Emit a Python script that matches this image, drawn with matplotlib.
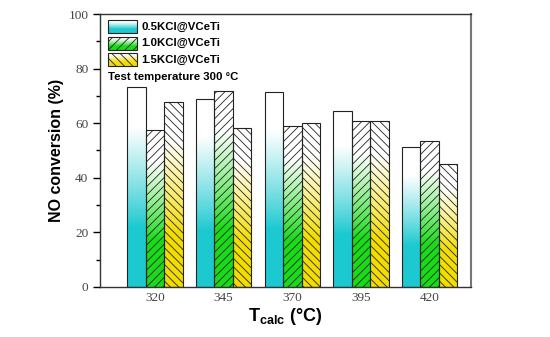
import numpy as np
import matplotlib
matplotlib.use("Agg")
import matplotlib.pyplot as plt
from matplotlib.patches import Rectangle
from matplotlib.colors import to_rgb

categories = ["320", "345", "370", "395", "420"]
series_names = ["0.5KCl@VCeTi", "1.0KCl@VCeTi", "1.5KCl@VCeTi"]
vals_05 = [73.3, 69.0, 71.3, 64.6, 51.3]
vals_10 = [57.4, 71.7, 59.1, 60.7, 53.5]
vals_15 = [67.8, 58.1, 60.1, 60.7, 45.2]
yticks = [0, 20, 40, 60, 80, 100]

colors = ["#1cc9d0", "#19dc19", "#f3dd00"]
hatches = ["", "////", "\\\\\\\\"]

plt.rcParams['hatch.linewidth'] = 0.6
plt.rcParams['hatch.color'] = '#333333'
plt.rcParams['mathtext.fontset'] = 'custom'
plt.rcParams['mathtext.rm'] = 'Liberation Sans:bold'
plt.rcParams['mathtext.bf'] = 'Liberation Sans:bold'

fig = plt.figure(figsize=(5.5, 3.37), dpi=100)
ax = fig.add_axes([0.182, 0.149, 0.674, 0.809])


def gradient(color, n=256):
    c = np.array(to_rgb(color))
    t = np.linspace(0, 1, n)
    # solid at bottom 0..0.3, fade to white by 0.8
    f = np.clip((t - 0.3) / 0.5, 0, 1)
    f = f ** 0.9
    rgb = c[None, :] * (1 - f[:, None]) + f[:, None] * np.ones(3)[None, :]
    return rgb[:, None, :]


w = 0.27
x = np.arange(len(categories))
all_vals = [vals_05, vals_10, vals_15]
for i, vals in enumerate(all_vals):
    off = (i - 1) * w
    grad = gradient(colors[i])
    for xi, v in zip(x, vals):
        ax.imshow(grad, extent=[xi + off - w / 2, xi + off + w / 2, 0, v],
                  origin='lower', aspect='auto', zorder=1, interpolation='bilinear')
    ax.bar(x + off, vals, width=w, facecolor='none', edgecolor='#222222',
           linewidth=0.8, hatch=hatches[i], zorder=2)

ax.set_xlim(-0.8, 4.6)
ax.set_ylim(0, 100)
ax.set_xticks(x)
ax.set_xticklabels(categories)
ax.set_yticks(yticks)
ax.set_yticks(np.arange(10, 100, 20), minor=True)
ax.tick_params(axis='y', which='major', length=5, width=1, direction='out')
ax.tick_params(axis='y', which='minor', length=3, width=1, direction='out')
ax.tick_params(axis='x', which='major', length=0, pad=4)
for lab in ax.get_xticklabels() + ax.get_yticklabels():
    lab.set_fontfamily('Liberation Serif')
    lab.set_fontsize(9.5)
    lab.set_color('#444444')
for s in ax.spines.values():
    s.set_linewidth(1.0)
    s.set_color('#333333')
ax.spines['right'].set_color('#777777')
ax.spines['right'].set_linewidth(1.5)

ax.set_ylabel('NO conversion (%)', fontsize=11.5, fontweight='bold',
              family='Liberation Sans', labelpad=3)
ax.set_xlabel(r'T$_{\mathbf{calc}}$ (°C)', fontsize=13, fontweight='bold',
              family='Liberation Sans', labelpad=1)

# legend drawn manually in axes coordinates
def ax_frac(px, py):
    return ((px - 100) / 371.0, (286.7 - py) / 272.4)

rows = [20.5, 37, 53.5]
for i, name in enumerate(series_names):
    x0, y1 = ax_frac(108, rows[i])
    x1, y0 = ax_frac(137, rows[i] + 13)
    ax.imshow(gradient(colors[i]), extent=[x0, x1, y0, y1], origin='lower',
              aspect='auto', transform=ax.transAxes, zorder=3, interpolation='bilinear')
    ax.add_patch(Rectangle((x0, y0), x1 - x0, y1 - y0, transform=ax.transAxes,
                           facecolor='none', edgecolor='#222222', linewidth=0.8,
                           hatch=hatches[i], zorder=4))
    ax.text(ax_frac(141, 0)[0], (y0 + y1) / 2, name, transform=ax.transAxes,
            fontsize=8.2, fontweight='bold', family='Liberation Sans',
            va='center', ha='left', zorder=5)
tx, ty = ax_frac(108, 77.5)
ax.text(tx, ty, 'Test temperature 300 °C', transform=ax.transAxes,
        fontsize=8.2, fontweight='bold', family='Liberation Sans',
        va='center', ha='left', zorder=5)

ax.set_xlim(-0.8, 4.6)
ax.set_ylim(0, 100)

fig.savefig('out.png', dpi=100)
